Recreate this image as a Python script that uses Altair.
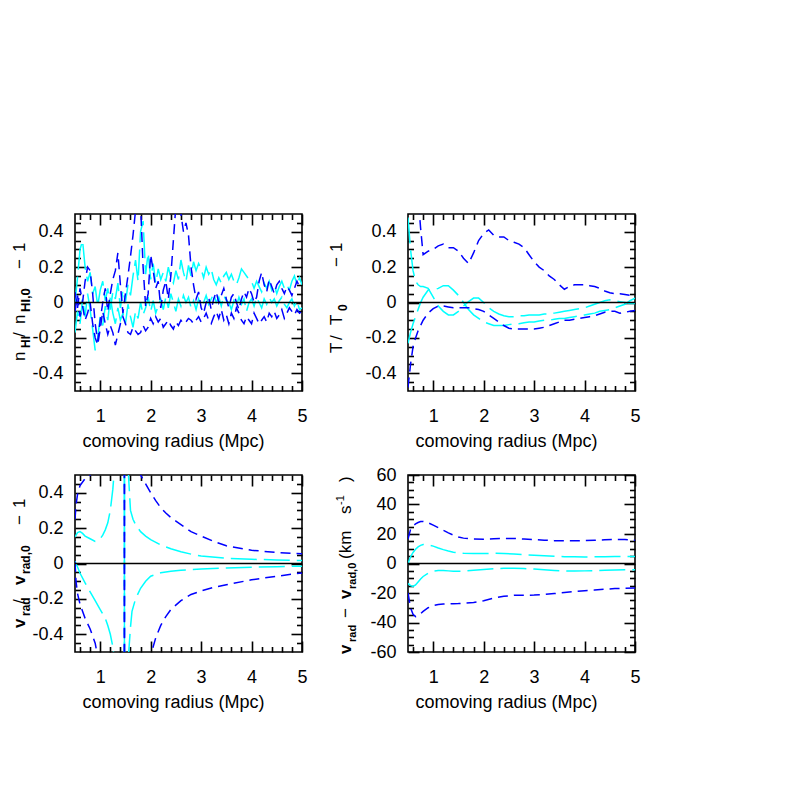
import altair as alt
import pandas as pd

# ---------------- data ----------------
X_TL = [round(0.5 + 0.05 * i, 2) for i in range(91)]   # sampling grid 0.50 .. 5.00

TL_CYAN_UP = [0.00, 0.14, 0.30, 0.35, 0.20, 0.12, 0.17, 0.05, 0.09, -0.02,
              0.07, 0.12, 0.01, 0.08, -0.04, 0.06, 0.02, 0.11, -0.03, 0.07,
              0.00, 0.10, 0.04, 0.15, 0.24, 0.12, 0.40, 0.46, 0.16, 0.28,
              0.13, 0.22, 0.11, 0.19, 0.13, 0.17, 0.12, 0.20, 0.14, 0.11,
              0.18, 0.13, 0.24, 0.17, 0.12, 0.21, 0.15, 0.23, 0.18, 0.22,
              0.19, 0.14, 0.20, 0.16, 0.19, 0.13, 0.10, 0.14, 0.11, 0.15,
              0.17, 0.13, 0.16, 0.12, 0.10, 0.14, 0.19, 0.17, 0.15, 0.13,
              0.12, 0.08, 0.12, 0.09, 0.06, 0.11, 0.08, 0.12, 0.07, 0.10,
              0.05, 0.09, 0.12, 0.08, 0.10, 0.07, 0.12, 0.15, 0.10, 0.14,
              0.10]
TL_CYAN_LO = [-0.17, -0.05, -0.12, 0.02, -0.08, 0.05, -0.04, -0.15, -0.27, -0.20,
              -0.08, -0.13, -0.02, -0.10, 0.03, -0.06, -0.12, -0.03, -0.10, -0.06,
              -0.12, -0.01, -0.08, -0.14, -0.05, -0.09, 0.00, -0.07, -0.03, 0.03,
              -0.05, 0.01, -0.06, -0.02, 0.02, -0.04, 0.03, -0.03, 0.05, 0.00,
              -0.05, 0.02, -0.02, 0.04, 0.00, 0.03, -0.03, 0.01, -0.04, 0.02,
              -0.02, 0.00, 0.04, -0.01, 0.02, 0.05, 0.00, 0.03, -0.02, 0.04,
              0.01, 0.00, -0.04, 0.01, -0.02, 0.03, -0.01, 0.02, -0.05, 0.00,
              0.02, -0.02, 0.03, 0.00, -0.03, 0.02, -0.01, 0.03, 0.00, 0.02,
              -0.02, 0.01, 0.03, -0.01, -0.03, 0.00, 0.02, -0.02, 0.01, -0.04,
              -0.03]
TL_BLUE_UP = [0.06, -0.03, 0.08, 0.00, 0.12, 0.20, 0.18, 0.05, -0.12, -0.22,
              -0.10, 0.00, 0.08, -0.05, 0.05, 0.13, 0.18, 0.28, 0.10, -0.06,
              0.05, 0.15, 0.26, 0.38, 0.52, 0.60, 0.55, 0.20, -0.02, 0.05,
              0.27, 0.18, 0.08, 0.12, -0.03, 0.07, 0.12, 0.02, 0.15, 0.35,
              0.55, 0.60, 0.50, 0.40, 0.45, 0.38, 0.20, 0.10, 0.02, 0.06,
              -0.03, -0.06, 0.00, 0.03, -0.04, 0.02, 0.06, 0.00, 0.04, 0.08,
              0.02, -0.03, 0.03, 0.05, 0.00, -0.04, 0.02, 0.06, 0.03, 0.08,
              0.05, 0.00, 0.03, 0.12, 0.17, 0.10, 0.06, 0.13, 0.09, 0.05,
              0.10, 0.12, 0.08, 0.05, 0.09, 0.07, 0.04, 0.08, 0.12, 0.09,
              0.10]
TL_BLUE_LO = [-0.05, 0.04, -0.08, -0.02, -0.10, -0.06, 0.00, -0.12, -0.20, -0.24,
              -0.15, -0.05, -0.12, -0.18, -0.13, -0.17, -0.24, -0.18, -0.12, -0.08,
              -0.12, -0.17, -0.18, -0.14, -0.16, -0.18, -0.17, -0.13, -0.16, -0.14,
              -0.09, -0.12, -0.08, -0.11, -0.09, -0.14, -0.12, -0.10, -0.13, -0.15,
              -0.11, -0.13, -0.10, -0.12, -0.11, -0.09, -0.10, -0.12, -0.10, -0.08,
              -0.11, -0.09, -0.06, -0.10, -0.12, -0.08, -0.05, -0.09, -0.04, -0.10,
              -0.07, -0.12, -0.06, -0.09, -0.03, -0.06, -0.10, -0.12, -0.08, -0.10,
              -0.12, -0.06, -0.09, -0.12, -0.10, -0.08, -0.11, -0.06, -0.08, -0.05,
              -0.09, -0.07, -0.04, -0.09, -0.06, -0.03, -0.05, -0.07, -0.04, -0.06,
              -0.05]

X_TR = [0.5, 0.55, 0.6, 0.65, 0.7, 0.75, 0.8,
        0.9, 1.0, 1.1, 1.2, 1.3, 1.4, 1.5, 1.6, 1.7, 1.8,
        1.9, 2.0, 2.1, 2.2, 2.3, 2.4, 2.5, 2.6, 2.7, 2.8,
        2.9, 3.0, 3.1, 3.2, 3.3, 3.4, 3.5, 3.6, 3.7, 3.8,
        3.9, 4.0, 4.1, 4.2, 4.3, 4.4, 4.5, 4.6, 4.7, 4.8,
        4.9, 5.0]
TR_BLUE_UP = [2.0, 1.5, 1.0, 0.8, 0.6, 0.42, 0.27,
              0.29, 0.30, 0.32, 0.33, 0.31, 0.31, 0.29, 0.25, 0.22, 0.28,
              0.35, 0.39, 0.41, 0.38, 0.37, 0.37, 0.35, 0.34, 0.33, 0.31,
              0.27, 0.23, 0.20, 0.18, 0.15, 0.13, 0.10, 0.075, 0.09, 0.10,
              0.10, 0.10, 0.095, 0.09, 0.08, 0.065, 0.055, 0.05, 0.05, 0.045,
              0.04, 0.035]
TR_BLUE_LO = [-0.48, -0.35, -0.25, -0.20, -0.16, -0.13, -0.10,
              -0.06, -0.035, -0.02, -0.02, -0.025, -0.03, -0.03, -0.03, -0.03, -0.035,
              -0.04, -0.05, -0.07, -0.09, -0.11, -0.13, -0.145, -0.15, -0.15, -0.15,
              -0.15, -0.15, -0.145, -0.14, -0.13, -0.12, -0.11, -0.10, -0.10, -0.095,
              -0.09, -0.085, -0.08, -0.075, -0.065, -0.055, -0.05, -0.05, -0.06, -0.055,
              -0.05, -0.045]
TR_CYAN_A = [0.48, 0.30, 0.18, 0.12, 0.10, 0.09, 0.09,
             0.08, 0.03, -0.02, -0.05, -0.07, -0.07, -0.05, -0.02, 0.005, 0.025,
             0.025, 0.0, -0.03, -0.05, -0.065, -0.075, -0.08, -0.08, -0.075, -0.075,
             -0.07, -0.07, -0.07, -0.065, -0.065, -0.06, -0.055, -0.05, -0.045, -0.04,
             -0.035, -0.03, -0.02, -0.01, 0.0, 0.01, 0.015, 0.01, 0.005, 0.0,
             -0.005, -0.005]
TR_CYAN_B = [-0.23, -0.17, -0.12, -0.08, -0.04, 0.0, 0.03,
             0.07, 0.07, 0.08, 0.095, 0.095, 0.07, 0.04, 0.0, -0.04, -0.07,
             -0.09, -0.11, -0.12, -0.13, -0.13, -0.13, -0.125, -0.12, -0.12, -0.115,
             -0.11, -0.11, -0.105, -0.10, -0.10, -0.095, -0.09, -0.09, -0.085, -0.08,
             -0.075, -0.07, -0.065, -0.06, -0.05, -0.045, -0.04, -0.03, -0.02, -0.01,
             0.01, 0.025]

BL_CYAN1_X = [0.5, 0.55, 0.6, 0.65, 0.7, 0.8, 0.9, 0.95, 1.0, 1.05, 1.1, 1.15, 1.2, 1.25, 1.3, 1.4, 1.48,
              1.48, 1.52, 1.56, 1.6, 1.63, 1.7, 1.8, 1.9, 2.0, 2.2, 2.4, 2.6, 2.8, 3.0, 3.5, 4.0, 4.5, 5.0]
BL_CYAN1_Y = [0.15, 0.175, 0.18, 0.17, 0.155, 0.14, 0.125, 0.13, 0.14, 0.16, 0.19, 0.23, 0.30, 0.42, 0.60, 1.5, 8.0,
              -8.0, -1.2, -0.52, -0.36, -0.27, -0.20, -0.14, -0.10, -0.072, -0.052, -0.044, -0.038, -0.034, -0.031,
              -0.026, -0.021, -0.018, -0.015]
BL_CYAN2_X = [0.5, 0.55, 0.6, 0.7, 0.8, 0.9, 1.0, 1.1, 1.15, 1.2, 1.25, 1.3, 1.4, 1.48,
              1.48, 1.52, 1.56, 1.6, 1.65, 1.7, 1.75, 1.8, 1.9, 2.0, 2.2, 2.4, 2.6, 2.8, 3.0, 3.5, 4.0, 4.5, 5.0]
BL_CYAN2_Y = [0.013, -0.02, -0.055, -0.11, -0.16, -0.21, -0.26, -0.31, -0.35, -0.40, -0.47, -0.58, -1.2, -8.0,
              8.0, 1.2, 0.5, 0.30, 0.25, 0.22, 0.20, 0.18, 0.155, 0.135, 0.105, 0.083, 0.066, 0.053, 0.042,
              0.030, 0.024, 0.020, 0.017]
BL_BLUE1_X = [0.5, 0.52, 0.55, 0.6, 0.7, 0.8, 0.9, 1.0, 1.1, 1.2, 1.3, 1.4, 1.48,
              1.48, 1.55, 1.7, 1.8, 1.9, 2.0, 2.1, 2.2, 2.3, 2.4, 2.6, 2.8, 3.0, 3.25, 3.5, 4.0, 4.5, 5.0]
BL_BLUE1_Y = [0.25, 0.33, 0.39, 0.44, 0.48, 0.50, 0.55, 0.65, 0.85, 1.2, 2.0, 5.0, 50.0,
              -50.0, -8.0, -2.0, -1.0, -0.70, -0.52, -0.42, -0.35, -0.30, -0.26, -0.21, -0.175, -0.155,
              -0.135, -0.12, -0.092, -0.072, -0.053]
BL_BLUE2_X = [0.5, 0.52, 0.55, 0.6, 0.7, 0.8, 0.9, 1.0, 1.1, 1.2, 1.3, 1.4, 1.48,
              1.48, 1.55, 1.6, 1.7, 1.8, 1.9, 2.0, 2.1, 2.2, 2.3, 2.4, 2.5, 2.6, 2.8, 3.0, 3.25, 3.5, 4.0, 4.5, 5.0]
BL_BLUE2_Y = [0.01, -0.10, -0.17, -0.23, -0.31, -0.37, -0.45, -0.60, -0.80, -1.2, -2.0, -5.0, -50.0,
              50.0, 3.0, 1.5, 0.8, 0.50, 0.45, 0.40, 0.355, 0.315, 0.285, 0.26, 0.24, 0.22, 0.18, 0.155,
              0.125, 0.10, 0.075, 0.062, 0.055]

X_BR = [0.5, 0.55, 0.6, 0.65, 0.7, 0.75, 0.8, 0.9, 1.0, 1.1, 1.2, 1.3, 1.4, 1.5, 1.6,
        1.8, 2.0, 2.2, 2.4, 2.6, 2.8, 3.0, 3.2, 3.4, 3.6, 3.8, 4.0, 4.2, 4.4, 4.6, 4.8, 5.0]
BR_BLUE_UP = [16.5, 23, 25.5, 26.8, 27.8, 28.4, 28.5, 27.6, 26, 24.3, 22.5, 20.8, 19.2, 18, 17.2,
              16.6, 16.5, 16.8, 17, 17, 16.6, 16.2, 15.8, 15.5, 15.4, 15.4, 15.6, 15.8, 16.1, 16.3, 16.2, 15.8]
BR_CYAN_UP = [0, 4.5, 7.5, 9.7, 11.3, 12.3, 12.9, 12.7, 11.8, 10.5, 9.4, 8.5, 7.7, 7.2, 6.9,
              6.7, 6.8, 6.9, 6.8, 6.5, 6.0, 5.6, 5.2, 4.9, 4.6, 4.5, 4.4, 4.5, 4.6, 4.7, 4.7, 4.7]
BR_CYAN_LO = [-13.5, -15, -15.5, -14.5, -12.5, -10.5, -8.8, -6.5, -5.2, -4.8, -4.8, -5.0, -5.2, -5.3, -5.2,
              -4.6, -4.0, -3.6, -3.3, -3.2, -3.4, -3.8, -4.3, -4.7, -5.0, -5.1, -5.0, -4.8, -4.6, -4.4, -4.3, -4.2]
BR_BLUE_LO = [-20, -30, -34.5, -36, -35.5, -34, -32.5, -30, -28.5, -27.8, -27.5, -27.4, -27.3, -27.2, -27,
              -26.4, -25.3, -23.5, -22.2, -21.6, -21.5, -21.4, -21, -20.4, -19.7, -19, -18.5, -18, -17.4,
              -17, -16.8, -16.6]

X_MAJOR = [1, 2, 3, 4, 5]
X_MINOR = [0.6, 0.8, 1.2, 1.4, 1.6, 1.8, 2.2, 2.4, 2.6, 2.8, 3.2, 3.4, 3.6, 3.8, 4.2, 4.4, 4.6, 4.8]
Y_MAJOR_F = [-0.4, -0.2, 0, 0.2, 0.4]
Y_MINOR_F = [-0.45, -0.35, -0.3, -0.25, -0.15, -0.1, -0.05, 0.05, 0.1, 0.15, 0.25, 0.3, 0.35, 0.45]
Y_MAJOR_V = [-60, -40, -20, 0, 20, 40, 60]
Y_MINOR_V = [-55, -50, -45, -35, -30, -25, -15, -10, -5, 5, 10, 15, 25, 30, 35, 45, 50, 55]
X_TITLE = "comoving radius (Mpc)"

# ---------------- style ----------------
FONT = "Liberation Sans"
BLUE = "#0000ff"
CYAN = "#00ffff"
W, H = 227, 177
MAJ, MIN = 11, 5.5


def frame(series):
    rows = []
    for name, kind, xs, ys in series:
        for i, (x, y) in enumerate(zip(xs, ys)):
            rows.append(dict(series=name, kind=kind, x=x, y=y, i=i))
    return pd.DataFrame(rows)


def tick_layer(xs, ys, ydom, xorient, yorient, xvals, yvals, size):
    one = pd.DataFrame({"x": [0.5], "y": [ydom[0]]})
    common = dict(tickSize=size, offset=-size, labels=False, domain=False, grid=False,
                  title=None, tickColor="black", tickWidth=1.6)
    return alt.Chart(one).mark_point(opacity=0).encode(
        x=alt.X("x:Q", scale=xs, axis=alt.Axis(orient=xorient, values=xvals, **common)),
        y=alt.Y("y:Q", scale=ys, axis=alt.Axis(orient=yorient, values=yvals, **common)),
    )


def text_layer(t, x, y, size=17, bold=False):
    return alt.Chart(alt.Data(values=[{}])).mark_text(
        text=t, angle=270, align="left", baseline="alphabetic", font=FONT,
        fontSize=size, fontWeight="bold" if bold else "normal", color="black",
    ).encode(x=alt.value(x), y=alt.value(y))


def panel(df, ydom, ymaj, ymin, label_expr, titles, marker=False):
    xs = alt.Scale(domain=[0.5, 5.0], nice=False, zero=False)
    ys = alt.Scale(domain=ydom, nice=False, zero=False)
    layers = [
        tick_layer(xs, ys, ydom, "bottom", "left", X_MAJOR, ymaj, MAJ),
        tick_layer(xs, ys, ydom, "bottom", "left", X_MINOR, ymin, MIN),
        tick_layer(xs, ys, ydom, "top", "right", X_MAJOR, ymaj, MAJ),
        tick_layer(xs, ys, ydom, "top", "right", X_MINOR, ymin, MIN),
    ]
    lines = alt.Chart(df).mark_line(clip=True, strokeWidth=1.5).encode(
        x=alt.X("x:Q", scale=xs, axis=alt.Axis(
            orient="bottom", values=X_MAJOR, ticks=False, tickSize=0, domain=False, grid=False,
            labelPadding=16.5, labelFontSize=18, labelFont=FONT, labelColor="black",
            labelFlush=False, labelOverlap=False, format="d",
            title=X_TITLE, titleFont=FONT, titleFontSize=18, titleFontWeight="normal",
            titleColor="black", titleX=98, titleY=55, titleAlign="center",
            titleBaseline="alphabetic")),
        y=alt.Y("y:Q", scale=ys, axis=alt.Axis(
            orient="left", values=ymaj, ticks=False, tickSize=0, domain=False, grid=False,
            labelPadding=12, labelFontSize=18, labelFont=FONT, labelColor="black",
            labelOverlap=False, labelExpr=label_expr, title=None)),
        color=alt.Color("kind:N", scale=alt.Scale(domain=["blue", "cyan"], range=[BLUE, CYAN]), legend=None),
        strokeDash=alt.StrokeDash("kind:N", scale=alt.Scale(domain=["blue", "cyan"], range=[[10, 6], [26, 7]]),
                                  legend=None),
        detail="series:N",
        order="i:Q",
    )
    zero = alt.Chart(alt.Data(values=[{}])).mark_rule(color="black", strokeWidth=1.6).encode(
        y=alt.Y(datum=0, scale=ys, axis=None))
    layers += [lines, zero]
    for t in titles:
        layers.append(text_layer(*t))
    if marker:
        layers.append(alt.Chart(alt.Data(values=[{}])).mark_rule(opacity=0).encode(
            x=alt.value(-70), x2=alt.value(0), y=alt.value(-20), y2=alt.value(-20)))
    return alt.layer(*layers).resolve_axis(x="independent", y="independent").properties(width=W, height=H)


NB = "\u00a0"
EXPR_F = "datum.value == 0 ? '0' : toString(datum.value) + '" + NB + "'"
EXPR_V = "toString(datum.value)"

df_tl = frame([("cu", "cyan", X_TL, TL_CYAN_UP), ("cl", "cyan", X_TL, TL_CYAN_LO),
               ("bu", "blue", X_TL, TL_BLUE_UP), ("bl", "blue", X_TL, TL_BLUE_LO)])
df_tr = frame([("ca", "cyan", X_TR, TR_CYAN_A), ("cb", "cyan", X_TR, TR_CYAN_B),
               ("bu", "blue", X_TR, TR_BLUE_UP), ("bl", "blue", X_TR, TR_BLUE_LO)])
df_bl = frame([("c1", "cyan", BL_CYAN1_X, BL_CYAN1_Y), ("c2", "cyan", BL_CYAN2_X, BL_CYAN2_Y),
               ("b1", "blue", BL_BLUE1_X, BL_BLUE1_Y), ("b2", "blue", BL_BLUE2_X, BL_BLUE2_Y)])
df_br = frame([("cu", "cyan", X_BR, BR_CYAN_UP), ("cl", "cyan", X_BR, BR_CYAN_LO),
               ("bu", "blue", X_BR, BR_BLUE_UP), ("bl", "blue", X_BR, BR_BLUE_LO)])

tl = panel(df_tl, [-0.5, 0.5], Y_MAJOR_F, Y_MINOR_F, EXPR_F, [
    ("n", -50, 147), ("HI", -45.5, 134, 12, True), ("/", -50, 123), ("n", -50, 110),
    ("HI,0", -45.5, 98, 13, True), ("\u2212", -50, 55), ("1", -50, 38)], marker=True)
tr = panel(df_tr, [-0.5, 0.5], Y_MAJOR_F, Y_MINOR_F, EXPR_F, [
    ("T", -66, 139), ("/", -66, 126), ("T", -66, 111), ("0", -61, 97, 12, True),
    ("\u2212", -66, 53), ("1", -66, 38)])
bl = panel(df_bl, [-0.5, 0.5], Y_MAJOR_F, Y_MINOR_F, EXPR_F, [
    ("v", -50, 153, 17, True), ("rad", -45, 141, 12, True), ("/", -50, 129),
    ("v", -50, 110, 17, True), ("rad,0", -45, 99, 12, True), ("\u2212", -50, 50), ("1", -50, 33)])
br = panel(df_br, [-60, 60], Y_MAJOR_V, Y_MINOR_V, EXPR_V, [
    ("v", -57, 179, 17, True), ("rad", -52, 167, 11, True), ("\u2212", -57, 143),
    ("v", -57, 124, 17, True), ("rad,0", -52, 114, 11, True), ("(km", -57, 84),
    ("s", -57, 39), ("-1", -64, 30, 11), (")", -57, 7)])

chart = alt.concat(tl, tr, bl, br, columns=2, spacing={"row": 84, "column": 106}, bounds="flush").properties(
    padding={"left": -4, "top": 185, "right": 10, "bottom": 10}
).configure_view(stroke="black", strokeWidth=1.6)

chart.save("out.html", embed_options={"renderer": "svg", "actions": False})
